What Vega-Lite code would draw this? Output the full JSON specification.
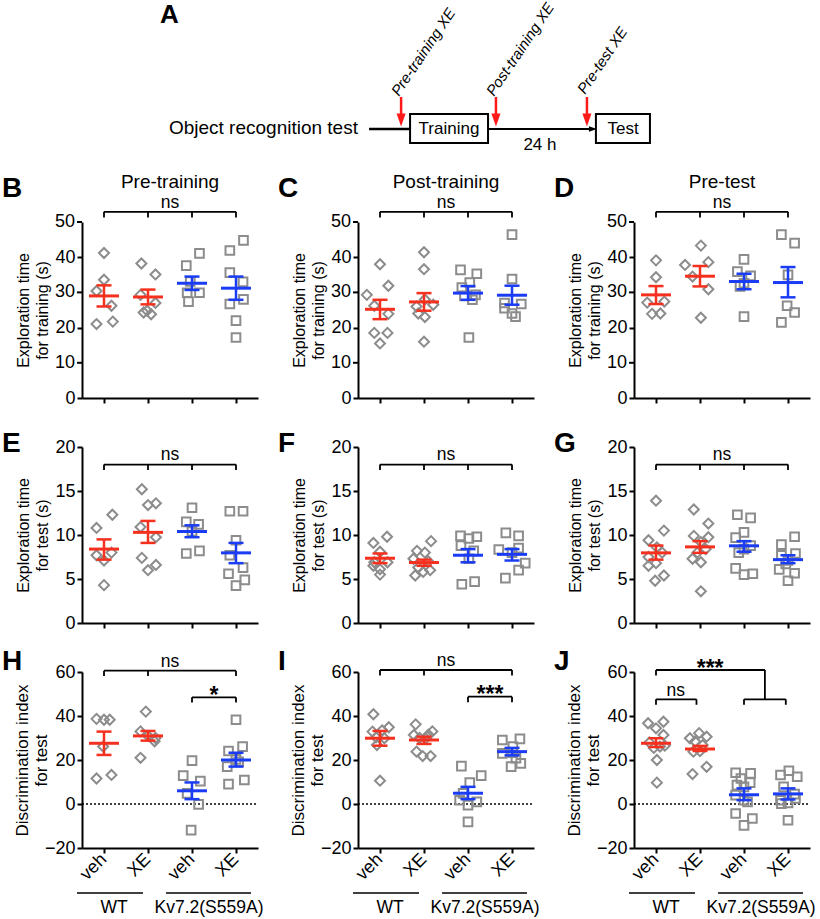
{
"$schema":"https://vega.github.io/schema/vega-lite/v6.json",
"background":"white",
"padding":{"left":2,"top":0,"right":2,"bottom":4},
"columns":3,
"spacing":{"row":49,"column":100},
"bounds":"flush",
"config":{
 "font":"Liberation Sans",
 "view":{"stroke":null},
 "axis":{"domainColor":"#000","domainWidth":2,"tickColor":"#000","tickWidth":2,"tickSize":5,"labelColor":"#000","labelFontSize":18,"labelFont":"Liberation Sans","labelPadding":2,"titleColor":"#000","titleFont":"Liberation Sans","titleFontSize":16,"titleFontWeight":"normal","titlePadding":6,"titleLineHeight":19,"grid":false,"labelFlush":false,"labelOverlap":false,"labelBound":false},
 "axisY":{"titleX":-51},
 "text":{"color":"#000","font":"Liberation Sans"}
},
"datasets":{
"pts":[
{"p":"B","g":1,"x":1.0,"v":41.2},{"p":"B","g":1,"x":1.0,"v":33.6},{"p":"B","g":1,"x":0.83,"v":30.4},{"p":"B","g":1,"x":1.17,"v":26.2},{"p":"B","g":1,"x":0.83,"v":21.0},{"p":"B","g":1,"x":1.2,"v":21.7},
{"p":"B","g":2,"x":1.85,"v":38.2},{"p":"B","g":2,"x":2.17,"v":35.1},{"p":"B","g":2,"x":1.83,"v":29.3},{"p":"B","g":2,"x":2.17,"v":27.0},{"p":"B","g":2,"x":1.98,"v":24.8},{"p":"B","g":2,"x":2.07,"v":23.8},{"p":"B","g":2,"x":1.9,"v":24.3},
{"p":"B","g":3,"x":2.87,"v":37.6},{"p":"B","g":3,"x":3.17,"v":41.1},{"p":"B","g":3,"x":2.96,"v":33.1},{"p":"B","g":3,"x":2.89,"v":29.9},{"p":"B","g":3,"x":3.17,"v":29.9},{"p":"B","g":3,"x":2.92,"v":27.4},
{"p":"B","g":4,"x":4.17,"v":44.8},{"p":"B","g":4,"x":3.86,"v":41.9},{"p":"B","g":4,"x":3.86,"v":35.6},{"p":"B","g":4,"x":4.16,"v":33.0},{"p":"B","g":4,"x":4.17,"v":28.0},{"p":"B","g":4,"x":3.86,"v":26.7},{"p":"B","g":4,"x":4.0,"v":22.0},{"p":"B","g":4,"x":4.0,"v":17.2},
{"p":"C","g":1,"x":1.0,"v":38.0},{"p":"C","g":1,"x":1.19,"v":31.9},{"p":"C","g":1,"x":0.7,"v":29.3},{"p":"C","g":1,"x":0.87,"v":26.2},{"p":"C","g":1,"x":1.19,"v":23.9},{"p":"C","g":1,"x":0.87,"v":18.5},{"p":"C","g":1,"x":1.17,"v":18.5},{"p":"C","g":1,"x":1.0,"v":15.5},
{"p":"C","g":2,"x":2.0,"v":41.4},{"p":"C","g":2,"x":2.0,"v":36.6},{"p":"C","g":2,"x":2.02,"v":28.0},{"p":"C","g":2,"x":1.83,"v":26.0},{"p":"C","g":2,"x":2.21,"v":26.5},{"p":"C","g":2,"x":1.87,"v":24.0},{"p":"C","g":2,"x":2.02,"v":23.0},{"p":"C","g":2,"x":2.0,"v":16.0},
{"p":"C","g":3,"x":2.83,"v":36.4},{"p":"C","g":3,"x":3.2,"v":35.3},{"p":"C","g":3,"x":3.04,"v":32.8},{"p":"C","g":3,"x":2.86,"v":31.4},{"p":"C","g":3,"x":3.17,"v":29.3},{"p":"C","g":3,"x":2.92,"v":29.0},{"p":"C","g":3,"x":3.1,"v":27.9},{"p":"C","g":3,"x":3.02,"v":17.2},
{"p":"C","g":4,"x":4.0,"v":46.4},{"p":"C","g":4,"x":4.0,"v":33.8},{"p":"C","g":4,"x":3.83,"v":27.0},{"p":"C","g":4,"x":4.21,"v":26.7},{"p":"C","g":4,"x":3.83,"v":25.5},{"p":"C","g":4,"x":4.0,"v":24.0},{"p":"C","g":4,"x":4.08,"v":23.1},
{"p":"D","g":1,"x":1.0,"v":39.1},{"p":"D","g":1,"x":1.0,"v":34.3},{"p":"D","g":1,"x":0.8,"v":27.1},{"p":"D","g":1,"x":1.19,"v":27.4},{"p":"D","g":1,"x":0.91,"v":23.9},{"p":"D","g":1,"x":1.1,"v":24.0},
{"p":"D","g":2,"x":2.02,"v":43.3},{"p":"D","g":2,"x":1.66,"v":37.8},{"p":"D","g":2,"x":2.19,"v":38.6},{"p":"D","g":2,"x":1.83,"v":34.5},{"p":"D","g":2,"x":2.19,"v":30.9},{"p":"D","g":2,"x":2.02,"v":22.8},
{"p":"D","g":3,"x":3.0,"v":39.4},{"p":"D","g":3,"x":2.85,"v":35.9},{"p":"D","g":3,"x":3.15,"v":34.7},{"p":"D","g":3,"x":3.0,"v":32.6},{"p":"D","g":3,"x":2.91,"v":31.7},{"p":"D","g":3,"x":3.0,"v":23.1},
{"p":"D","g":4,"x":3.85,"v":46.4},{"p":"D","g":4,"x":4.15,"v":44.0},{"p":"D","g":4,"x":4.0,"v":35.0},{"p":"D","g":4,"x":3.98,"v":26.2},{"p":"D","g":4,"x":4.15,"v":24.3},{"p":"D","g":4,"x":3.85,"v":21.5},
{"p":"E","g":1,"x":1.19,"v":12.3},{"p":"E","g":1,"x":0.83,"v":10.8},{"p":"E","g":1,"x":0.83,"v":7.7},{"p":"E","g":1,"x":1.17,"v":8.0},{"p":"E","g":1,"x":1.0,"v":7.1},{"p":"E","g":1,"x":1.0,"v":4.3},
{"p":"E","g":2,"x":1.86,"v":15.2},{"p":"E","g":2,"x":2.0,"v":13.4},{"p":"E","g":2,"x":2.18,"v":13.6},{"p":"E","g":2,"x":1.83,"v":10.9},{"p":"E","g":2,"x":2.18,"v":9.75},{"p":"E","g":2,"x":1.86,"v":7.4},{"p":"E","g":2,"x":2.0,"v":6.0},{"p":"E","g":2,"x":2.18,"v":6.6},
{"p":"E","g":3,"x":3.0,"v":13.1},{"p":"E","g":3,"x":2.87,"v":11.5},{"p":"E","g":3,"x":3.15,"v":11.2},{"p":"E","g":3,"x":3.0,"v":10.4},{"p":"E","g":3,"x":2.87,"v":7.9},{"p":"E","g":3,"x":3.17,"v":8.2},
{"p":"E","g":4,"x":3.86,"v":12.7},{"p":"E","g":4,"x":4.16,"v":12.7},{"p":"E","g":4,"x":4.0,"v":9.4},{"p":"E","g":4,"x":3.86,"v":7.7},{"p":"E","g":4,"x":3.83,"v":5.6},{"p":"E","g":4,"x":4.16,"v":6.3},{"p":"E","g":4,"x":4.2,"v":4.9},{"p":"E","g":4,"x":4.0,"v":4.25},
{"p":"F","g":1,"x":1.16,"v":9.8},{"p":"F","g":1,"x":0.85,"v":9.1},{"p":"F","g":1,"x":1.0,"v":8.1},{"p":"F","g":1,"x":0.87,"v":6.9},{"p":"F","g":1,"x":1.17,"v":6.9},{"p":"F","g":1,"x":1.0,"v":6.1},{"p":"F","g":1,"x":1.0,"v":5.5},{"p":"F","g":1,"x":0.85,"v":6.5},
{"p":"F","g":2,"x":2.16,"v":9.3},{"p":"F","g":2,"x":1.84,"v":8.2},{"p":"F","g":2,"x":2.02,"v":8.0},{"p":"F","g":2,"x":1.76,"v":7.3},{"p":"F","g":2,"x":2.1,"v":7.0},{"p":"F","g":2,"x":1.87,"v":6.3},{"p":"F","g":2,"x":1.98,"v":5.8},{"p":"F","g":2,"x":1.8,"v":5.4},{"p":"F","g":2,"x":2.14,"v":6.0},
{"p":"F","g":3,"x":2.83,"v":9.9},{"p":"F","g":3,"x":3.02,"v":9.6},{"p":"F","g":3,"x":3.2,"v":9.8},{"p":"F","g":3,"x":2.84,"v":8.8},{"p":"F","g":3,"x":3.13,"v":8.2},{"p":"F","g":3,"x":3.02,"v":7.3},{"p":"F","g":3,"x":2.86,"v":4.4},{"p":"F","g":3,"x":3.15,"v":4.7},
{"p":"F","g":4,"x":3.86,"v":10.25},{"p":"F","g":4,"x":4.15,"v":9.9},{"p":"F","g":4,"x":3.7,"v":8.35},{"p":"F","g":4,"x":4.15,"v":8.5},{"p":"F","g":4,"x":4.0,"v":8.0},{"p":"F","g":4,"x":4.3,"v":6.8},{"p":"F","g":4,"x":4.15,"v":6.0},{"p":"F","g":4,"x":3.85,"v":5.1},
{"p":"G","g":1,"x":1.0,"v":13.9},{"p":"G","g":1,"x":1.18,"v":10.5},{"p":"G","g":1,"x":0.83,"v":9.4},{"p":"G","g":1,"x":1.02,"v":8.6},{"p":"G","g":1,"x":1.14,"v":8.0},{"p":"G","g":1,"x":0.83,"v":7.5},{"p":"G","g":1,"x":0.83,"v":6.5},{"p":"G","g":1,"x":1.0,"v":6.8},{"p":"G","g":1,"x":1.18,"v":5.4},{"p":"G","g":1,"x":0.98,"v":4.8},
{"p":"G","g":2,"x":1.86,"v":12.9},{"p":"G","g":2,"x":2.19,"v":11.3},{"p":"G","g":2,"x":1.86,"v":9.9},{"p":"G","g":2,"x":2.19,"v":9.75},{"p":"G","g":2,"x":2.02,"v":9.2},{"p":"G","g":2,"x":1.94,"v":8.0},{"p":"G","g":2,"x":1.83,"v":7.3},{"p":"G","g":2,"x":2.13,"v":8.4},{"p":"G","g":2,"x":2.02,"v":6.9},{"p":"G","g":2,"x":2.02,"v":3.6},
{"p":"G","g":3,"x":2.85,"v":12.3},{"p":"G","g":3,"x":3.15,"v":11.95},{"p":"G","g":3,"x":3.0,"v":10.3},{"p":"G","g":3,"x":2.81,"v":9.7},{"p":"G","g":3,"x":3.15,"v":8.8},{"p":"G","g":3,"x":3.0,"v":8.4},{"p":"G","g":3,"x":2.81,"v":6.2},{"p":"G","g":3,"x":3.0,"v":5.5},{"p":"G","g":3,"x":3.2,"v":5.6},{"p":"G","g":3,"x":2.88,"v":8.0},
{"p":"G","g":4,"x":4.15,"v":9.8},{"p":"G","g":4,"x":3.85,"v":8.9},{"p":"G","g":4,"x":4.17,"v":7.9},{"p":"G","g":4,"x":3.85,"v":7.7},{"p":"G","g":4,"x":4.0,"v":7.1},{"p":"G","g":4,"x":3.8,"v":6.1},{"p":"G","g":4,"x":4.15,"v":5.65},{"p":"G","g":4,"x":4.0,"v":4.8},{"p":"G","g":4,"x":3.95,"v":6.7},
{"p":"H","g":1,"x":0.83,"v":38.7},{"p":"H","g":1,"x":1.0,"v":38.3},{"p":"H","g":1,"x":1.13,"v":38.3},{"p":"H","g":1,"x":0.98,"v":26.1},{"p":"H","g":1,"x":0.83,"v":11.6},{"p":"H","g":1,"x":1.17,"v":13.2},
{"p":"H","g":2,"x":1.95,"v":42.0},{"p":"H","g":2,"x":1.83,"v":33.0},{"p":"H","g":2,"x":2.0,"v":31.0},{"p":"H","g":2,"x":2.17,"v":30.0},{"p":"H","g":2,"x":2.15,"v":28.5},{"p":"H","g":2,"x":1.83,"v":21.0},
{"p":"H","g":3,"x":3.0,"v":19.7},{"p":"H","g":3,"x":2.8,"v":12.9},{"p":"H","g":3,"x":3.19,"v":10.4},{"p":"H","g":3,"x":2.89,"v":4.8},{"p":"H","g":3,"x":3.15,"v":-0.2},{"p":"H","g":3,"x":2.98,"v":-11.9},
{"p":"H","g":4,"x":4.0,"v":38.3},{"p":"H","g":4,"x":3.83,"v":24.1},{"p":"H","g":4,"x":4.15,"v":26.1},{"p":"H","g":4,"x":4.06,"v":19.2},{"p":"H","g":4,"x":3.8,"v":17.0},{"p":"H","g":4,"x":4.19,"v":10.9},{"p":"H","g":4,"x":3.83,"v":9.0},{"p":"H","g":4,"x":4.0,"v":20.3},
{"p":"I","g":1,"x":0.85,"v":40.8},{"p":"I","g":1,"x":0.83,"v":32.9},{"p":"I","g":1,"x":1.2,"v":34.9},{"p":"I","g":1,"x":0.91,"v":30.3},{"p":"I","g":1,"x":1.1,"v":29.9},{"p":"I","g":1,"x":0.93,"v":26.8},{"p":"I","g":1,"x":1.0,"v":10.6},{"p":"I","g":1,"x":1.05,"v":33.5},
{"p":"I","g":2,"x":1.81,"v":36.2},{"p":"I","g":2,"x":2.19,"v":33.0},{"p":"I","g":2,"x":2.1,"v":31.5},{"p":"I","g":2,"x":1.77,"v":31.4},{"p":"I","g":2,"x":2.04,"v":29.9},{"p":"I","g":2,"x":1.83,"v":23.8},{"p":"I","g":2,"x":1.97,"v":21.8},{"p":"I","g":2,"x":2.15,"v":21.8},{"p":"I","g":2,"x":1.9,"v":30.0},
{"p":"I","g":3,"x":2.85,"v":17.2},{"p":"I","g":3,"x":3.3,"v":12.9},{"p":"I","g":3,"x":3.04,"v":9.7},{"p":"I","g":3,"x":2.81,"v":1.7},{"p":"I","g":3,"x":3.0,"v":-0.5},{"p":"I","g":3,"x":3.0,"v":-8.1},{"p":"I","g":3,"x":2.89,"v":4.8},{"p":"I","g":3,"x":3.2,"v":1.0},
{"p":"I","g":4,"x":3.78,"v":29.1},{"p":"I","g":4,"x":4.18,"v":29.6},{"p":"I","g":4,"x":4.02,"v":26.1},{"p":"I","g":4,"x":3.78,"v":23.0},{"p":"I","g":4,"x":4.09,"v":20.8},{"p":"I","g":4,"x":3.98,"v":17.0},{"p":"I","g":4,"x":4.2,"v":18.5},{"p":"I","g":4,"x":4.02,"v":23.3},
{"p":"J","g":1,"x":0.82,"v":36.7},{"p":"J","g":1,"x":1.17,"v":37.4},{"p":"J","g":1,"x":1.0,"v":34.4},{"p":"J","g":1,"x":1.17,"v":31.4},{"p":"J","g":1,"x":1.09,"v":26.1},{"p":"J","g":1,"x":1.02,"v":20.0},{"p":"J","g":1,"x":1.02,"v":9.7},{"p":"J","g":1,"x":0.85,"v":28.0},{"p":"J","g":1,"x":0.95,"v":25.5},{"p":"J","g":1,"x":1.2,"v":26.5},
{"p":"J","g":2,"x":1.77,"v":29.9},{"p":"J","g":2,"x":1.98,"v":32.2},{"p":"J","g":2,"x":2.15,"v":30.6},{"p":"J","g":2,"x":1.89,"v":28.4},{"p":"J","g":2,"x":2.06,"v":26.8},{"p":"J","g":2,"x":1.85,"v":23.8},{"p":"J","g":2,"x":2.15,"v":16.9},{"p":"J","g":2,"x":1.83,"v":13.6},{"p":"J","g":2,"x":2.0,"v":24.0},
{"p":"J","g":3,"x":2.81,"v":14.2},{"p":"J","g":3,"x":3.15,"v":13.9},{"p":"J","g":3,"x":2.93,"v":11.6},{"p":"J","g":3,"x":3.14,"v":9.7},{"p":"J","g":3,"x":3.0,"v":7.8},{"p":"J","g":3,"x":2.81,"v":4.0},{"p":"J","g":3,"x":3.08,"v":1.0},{"p":"J","g":3,"x":2.81,"v":-4.3},{"p":"J","g":3,"x":3.19,"v":-6.6},{"p":"J","g":3,"x":3.0,"v":-9.7},{"p":"J","g":3,"x":2.84,"v":8.6},{"p":"J","g":3,"x":3.0,"v":1.7},
{"p":"J","g":4,"x":3.83,"v":13.2},{"p":"J","g":4,"x":4.02,"v":15.1},{"p":"J","g":4,"x":4.21,"v":12.4},{"p":"J","g":4,"x":3.9,"v":7.8},{"p":"J","g":4,"x":4.15,"v":4.5},{"p":"J","g":4,"x":3.83,"v":1.7},{"p":"J","g":4,"x":4.0,"v":0.5},{"p":"J","g":4,"x":4.17,"v":2.5},{"p":"J","g":4,"x":4.0,"v":-7.4},{"p":"J","g":4,"x":3.85,"v":0.2}
],
"sum":[
{"p":"B","g":1,"m":29.0,"lo":26.0,"hi":32.0},{"p":"B","g":2,"m":28.7,"lo":26.6,"hi":30.8},{"p":"B","g":3,"m":32.6,"lo":30.7,"hi":34.5},{"p":"B","g":4,"m":31.2,"lo":27.9,"hi":34.5},
{"p":"C","g":1,"m":25.2,"lo":22.4,"hi":27.9},{"p":"C","g":2,"m":27.3,"lo":24.8,"hi":29.8},{"p":"C","g":3,"m":29.8,"lo":27.9,"hi":31.8},{"p":"C","g":4,"m":29.2,"lo":26.5,"hi":31.9},
{"p":"D","g":1,"m":29.3,"lo":26.7,"hi":31.8},{"p":"D","g":2,"m":34.6,"lo":31.7,"hi":37.5},{"p":"D","g":3,"m":33.1,"lo":30.9,"hi":35.3},{"p":"D","g":4,"m":32.8,"lo":28.6,"hi":37.2},
{"p":"E","g":1,"m":8.4,"lo":7.2,"hi":9.5},{"p":"E","g":2,"m":10.3,"lo":9.1,"hi":11.6},{"p":"E","g":3,"m":10.4,"lo":9.75,"hi":11.1},{"p":"E","g":4,"m":7.97,"lo":6.8,"hi":9.1},
{"p":"F","g":1,"m":7.36,"lo":6.8,"hi":7.9},{"p":"F","g":2,"m":6.87,"lo":6.5,"hi":7.2},{"p":"F","g":3,"m":7.7,"lo":6.9,"hi":8.4},{"p":"F","g":4,"m":7.8,"lo":7.1,"hi":8.4},
{"p":"G","g":1,"m":7.97,"lo":7.2,"hi":8.8},{"p":"G","g":2,"m":8.65,"lo":7.97,"hi":9.3},{"p":"G","g":3,"m":8.77,"lo":8.1,"hi":9.3},{"p":"G","g":4,"m":7.2,"lo":6.8,"hi":7.7},
{"p":"H","g":1,"m":27.6,"lo":22.3,"hi":32.9},{"p":"H","g":2,"m":30.95,"lo":28.8,"hi":33.2},{"p":"H","g":3,"m":6.0,"lo":2.2,"hi":9.8},{"p":"H","g":4,"m":20.0,"lo":17.0,"hi":23.3},
{"p":"I","g":1,"m":29.9,"lo":26.5,"hi":33.2},{"p":"I","g":2,"m":29.1,"lo":27.3,"hi":30.6},{"p":"I","g":3,"m":4.9,"lo":2.2,"hi":7.8},{"p":"I","g":4,"m":23.8,"lo":22.1,"hi":25.5},
{"p":"J","g":1,"m":27.6,"lo":25.9,"hi":29.9},{"p":"J","g":2,"m":25.0,"lo":24.1,"hi":26.4},{"p":"J","g":3,"m":4.2,"lo":1.75,"hi":7.1},{"p":"J","g":4,"m":4.6,"lo":2.05,"hi":7.1}
]
},
"concat":[
{
"width":176,"height":162,
"data":{"values":[{}]},
"layer":[
 {"mark":{"type":"rule","color":"#000","strokeWidth":2.5},"encoding":{"x":{"datum":163.1,"scale":{"domain":[0,100],"nice":false,"zero":false},"axis":null},"x2":{"datum":186.4},"y":{"datum":27.2,"scale":{"domain":[0,100],"nice":false,"zero":false},"axis":null}}},
 {"mark":{"type":"rule","color":"#000","strokeWidth":2},"encoding":{"x":{"datum":230.7,"axis":null},"x2":{"datum":290.0},"y":{"datum":27.2,"axis":null}}},
 {"mark":{"type":"point","shape":"M-1,-0.7L-1,0.7L1,0Z","size":64,"filled":true,"color":"#000","opacity":1},"encoding":{"x":{"datum":290.3,"axis":null},"y":{"datum":27.2,"axis":null}}},
 {"mark":{"type":"rect","fill":"white","stroke":"#000","strokeWidth":2},"encoding":{"x":{"datum":186.4,"axis":null},"x2":{"datum":230.7},"y":{"datum":36.4,"axis":null},"y2":{"datum":18.5}}},
 {"mark":{"type":"rect","fill":"white","stroke":"#000","strokeWidth":2},"encoding":{"x":{"datum":292.0,"axis":null},"x2":{"datum":322.7},"y":{"datum":36.4,"axis":null},"y2":{"datum":18.5}}},
 {"mark":{"type":"text","text":"Training","fontSize":17,"baseline":"middle","align":"center"},"encoding":{"x":{"datum":208.5,"axis":null},"y":{"datum":27.2,"axis":null}}},
 {"mark":{"type":"text","text":"Test","fontSize":17,"baseline":"middle","align":"center"},"encoding":{"x":{"datum":307.4,"axis":null},"y":{"datum":27.2,"axis":null}}},
 {"mark":{"type":"text","text":"24 h","fontSize":17,"baseline":"alphabetic","align":"center"},"encoding":{"x":{"datum":260.2,"axis":null},"y":{"datum":14.2,"axis":null}}},
 {"mark":{"type":"text","text":"Object recognition test","fontSize":19,"baseline":"alphabetic","align":"right"},"encoding":{"x":{"datum":156.8,"axis":null},"y":{"datum":24.1,"axis":null}}},
 {"mark":{"type":"text","text":"A","fontSize":26,"fontWeight":"bold","baseline":"alphabetic","align":"left"},"encoding":{"x":{"datum":44.3,"axis":null},"y":{"datum":92.6,"axis":null}}},
 {"mark":{"type":"rule","color":"#ff1a1a","strokeWidth":2.5},"encoding":{"x":{"datum":181.3,"axis":null},"y":{"datum":46.9,"axis":null},"y2":{"datum":35.2}}},
 {"mark":{"type":"rule","color":"#ff1a1a","strokeWidth":2.5},"encoding":{"x":{"datum":235.2,"axis":null},"y":{"datum":46.9,"axis":null},"y2":{"datum":35.2}}},
 {"mark":{"type":"rule","color":"#ff1a1a","strokeWidth":2.5},"encoding":{"x":{"datum":286.9,"axis":null},"y":{"datum":46.9,"axis":null},"y2":{"datum":35.2}}},
 {"mark":{"type":"point","shape":"M-0.7,-1L0.7,-1L0,1Z","size":169,"filled":true,"color":"#ff1a1a","opacity":1},"encoding":{"x":{"datum":181.3,"axis":null},"y":{"datum":32.7,"axis":null}}},
 {"mark":{"type":"point","shape":"M-0.7,-1L0.7,-1L0,1Z","size":169,"filled":true,"color":"#ff1a1a","opacity":1},"encoding":{"x":{"datum":235.2,"axis":null},"y":{"datum":32.7,"axis":null}}},
 {"mark":{"type":"point","shape":"M-0.7,-1L0.7,-1L0,1Z","size":169,"filled":true,"color":"#ff1a1a","opacity":1},"encoding":{"x":{"datum":286.9,"axis":null},"y":{"datum":32.7,"axis":null}}},
 {"mark":{"type":"text","text":"Pre-training XE","fontSize":15,"fontStyle":"italic","angle":-56,"align":"left","baseline":"alphabetic"},"encoding":{"x":{"datum":180.1,"axis":null},"y":{"datum":46.9,"axis":null}}},
 {"mark":{"type":"text","text":"Post-training XE","fontSize":15,"fontStyle":"italic","angle":-56,"align":"left","baseline":"alphabetic"},"encoding":{"x":{"datum":234.1,"axis":null},"y":{"datum":46.9,"axis":null}}},
 {"mark":{"type":"text","text":"Pre-test XE","fontSize":15,"fontStyle":"italic","angle":-56,"align":"left","baseline":"alphabetic"},"encoding":{"x":{"datum":285.8,"axis":null},"y":{"datum":48.1,"axis":null}}}
]
},
{"width":176,"height":162,"data":{"values":[{}]},"mark":{"type":"text","text":""}},
{"width":176,"height":162,"data":{"values":[{}]},"mark":{"type":"text","text":""}},

{
"width":176,"height":176,"data":{"values":[{}]},
"layer":[
 {"data":{"name":"pts"},"transform":[{"filter":"datum.p=='B' && datum.g<=2"}],"mark":{"type":"point","shape":"diamond","size":100,"filled":false,"color":"#8c8c8c","strokeWidth":2,"opacity":1},"encoding":{"x":{"field":"x","type":"quantitative","scale":{"domain":[0.5,4.5],"nice":false,"zero":false},"axis":{"values":[1,2,3,4],"labels":false,"title":null}},"y":{"field":"v","type":"quantitative","scale":{"domain":[0,50],"nice":false,"zero":false},"axis":{"values":[0,10,20,30,40,50],"title":["Exploration time","for training (s)"],"labelOverlap":false}}}},
 {"data":{"name":"pts"},"transform":[{"filter":"datum.p=='B' && datum.g>=3"}],"mark":{"type":"point","shape":"square","size":75,"filled":false,"color":"#8c8c8c","strokeWidth":2,"opacity":1},"encoding":{"x":{"field":"x","type":"quantitative"},"y":{"field":"v","type":"quantitative"}}},
 {"data":{"values":[{"t":10},{"t":30},{"t":50}]},"mark":{"type":"rule","color":"#000","strokeWidth":2},"encoding":{"x":{"datum":0.5},"x2":{"datum":0.386},"y":{"field":"t","type":"quantitative"}}},
 {"data":{"values":[{"t":10},{"t":30},{"t":50}]},"mark":{"type":"text","fontSize":18,"align":"right","baseline":"middle","xOffset":-7},"encoding":{"x":{"datum":0.5},"y":{"field":"t","type":"quantitative"},"text":{"field":"t","type":"quantitative"}}},
 {"data":{"name":"sum"},"transform":[{"filter":"datum.p=='B'"}],"mark":{"type":"rule","strokeWidth":2.5},"encoding":{"x":{"field":"g","type":"quantitative"},"y":{"field":"lo","type":"quantitative"},"y2":{"field":"hi"},"color":{"field":"g","type":"nominal","scale":{"domain":[1,2,3,4],"range":["#f5301e","#f5301e","#1a3cf4","#1a3cf4"]},"legend":null}}},
 {"data":{"name":"sum"},"transform":[{"filter":"datum.p=='B'"}],"mark":{"type":"tick","orient":"horizontal","size":30,"thickness":3,"opacity":1},"encoding":{"x":{"field":"g","type":"quantitative"},"y":{"field":"m","type":"quantitative"},"color":{"field":"g","type":"nominal","legend":null}}},
 {"data":{"name":"sum"},"transform":[{"filter":"datum.p=='B'"}],"mark":{"type":"tick","orient":"horizontal","size":15,"thickness":2.5,"opacity":1},"encoding":{"x":{"field":"g","type":"quantitative"},"y":{"field":"lo","type":"quantitative"},"color":{"field":"g","type":"nominal","legend":null}}},
 {"data":{"name":"sum"},"transform":[{"filter":"datum.p=='B'"}],"mark":{"type":"tick","orient":"horizontal","size":15,"thickness":2.5,"opacity":1},"encoding":{"x":{"field":"g","type":"quantitative"},"y":{"field":"hi","type":"quantitative"},"color":{"field":"g","type":"nominal","legend":null}}},
 {"mark":{"type":"rule","color":"#000","strokeWidth":1.8},"encoding":{"x":{"datum":1},"x2":{"datum":4},"y":{"datum":52.9}}},
 {"data":{"name":"sum"},"transform":[{"filter":"datum.p=='B'"}],"mark":{"type":"rule","color":"#000","strokeWidth":1.8},"encoding":{"x":{"field":"g","type":"quantitative"},"y":{"datum":52.9},"y2":{"datum":51.3}}},
 {"mark":{"type":"text","text":"ns","fontSize":17.5,"dy":-4,"baseline":"alphabetic","align":"center"},"encoding":{"x":{"datum":2.5},"y":{"datum":52.9}}},
 {"mark":{"type":"text","text":"Pre-training","fontSize":19,"dy":-34,"baseline":"alphabetic","align":"center"},"encoding":{"x":{"datum":2.5},"y":{"datum":50}}},
 {"mark":{"type":"text","text":"B","fontSize":28,"fontWeight":"bold","align":"left","dx":-80,"dy":-25,"baseline":"alphabetic"},"encoding":{"x":{"datum":0.5},"y":{"datum":50}}}
]
},
{
"width":176,"height":176,"data":{"values":[{}]},
"layer":[
 {"data":{"name":"pts"},"transform":[{"filter":"datum.p=='C' && datum.g<=2"}],"mark":{"type":"point","shape":"diamond","size":100,"filled":false,"color":"#8c8c8c","strokeWidth":2,"opacity":1},"encoding":{"x":{"field":"x","type":"quantitative","scale":{"domain":[0.5,4.5],"nice":false,"zero":false},"axis":{"values":[1,2,3,4],"labels":false,"title":null}},"y":{"field":"v","type":"quantitative","scale":{"domain":[0,50],"nice":false,"zero":false},"axis":{"values":[0,10,20,30,40,50],"title":["Exploration time","for training (s)"],"labelOverlap":false}}}},
 {"data":{"name":"pts"},"transform":[{"filter":"datum.p=='C' && datum.g>=3"}],"mark":{"type":"point","shape":"square","size":75,"filled":false,"color":"#8c8c8c","strokeWidth":2,"opacity":1},"encoding":{"x":{"field":"x","type":"quantitative"},"y":{"field":"v","type":"quantitative"}}},
 {"data":{"values":[{"t":10},{"t":30},{"t":50}]},"mark":{"type":"rule","color":"#000","strokeWidth":2},"encoding":{"x":{"datum":0.5},"x2":{"datum":0.386},"y":{"field":"t","type":"quantitative"}}},
 {"data":{"values":[{"t":10},{"t":30},{"t":50}]},"mark":{"type":"text","fontSize":18,"align":"right","baseline":"middle","xOffset":-7},"encoding":{"x":{"datum":0.5},"y":{"field":"t","type":"quantitative"},"text":{"field":"t","type":"quantitative"}}},
 {"data":{"name":"sum"},"transform":[{"filter":"datum.p=='C'"}],"mark":{"type":"rule","strokeWidth":2.5},"encoding":{"x":{"field":"g","type":"quantitative"},"y":{"field":"lo","type":"quantitative"},"y2":{"field":"hi"},"color":{"field":"g","type":"nominal","scale":{"domain":[1,2,3,4],"range":["#f5301e","#f5301e","#1a3cf4","#1a3cf4"]},"legend":null}}},
 {"data":{"name":"sum"},"transform":[{"filter":"datum.p=='C'"}],"mark":{"type":"tick","orient":"horizontal","size":30,"thickness":3,"opacity":1},"encoding":{"x":{"field":"g","type":"quantitative"},"y":{"field":"m","type":"quantitative"},"color":{"field":"g","type":"nominal","legend":null}}},
 {"data":{"name":"sum"},"transform":[{"filter":"datum.p=='C'"}],"mark":{"type":"tick","orient":"horizontal","size":15,"thickness":2.5,"opacity":1},"encoding":{"x":{"field":"g","type":"quantitative"},"y":{"field":"lo","type":"quantitative"},"color":{"field":"g","type":"nominal","legend":null}}},
 {"data":{"name":"sum"},"transform":[{"filter":"datum.p=='C'"}],"mark":{"type":"tick","orient":"horizontal","size":15,"thickness":2.5,"opacity":1},"encoding":{"x":{"field":"g","type":"quantitative"},"y":{"field":"hi","type":"quantitative"},"color":{"field":"g","type":"nominal","legend":null}}},
 {"mark":{"type":"rule","color":"#000","strokeWidth":1.8},"encoding":{"x":{"datum":1},"x2":{"datum":4},"y":{"datum":52.9}}},
 {"data":{"name":"sum"},"transform":[{"filter":"datum.p=='C'"}],"mark":{"type":"rule","color":"#000","strokeWidth":1.8},"encoding":{"x":{"field":"g","type":"quantitative"},"y":{"datum":52.9},"y2":{"datum":51.3}}},
 {"mark":{"type":"text","text":"ns","fontSize":17.5,"dy":-4,"baseline":"alphabetic","align":"center"},"encoding":{"x":{"datum":2.5},"y":{"datum":52.9}}},
 {"mark":{"type":"text","text":"Post-training","fontSize":19,"dy":-34,"baseline":"alphabetic","align":"center"},"encoding":{"x":{"datum":2.5},"y":{"datum":50}}},
 {"mark":{"type":"text","text":"C","fontSize":28,"fontWeight":"bold","align":"left","dx":-80,"dy":-25,"baseline":"alphabetic"},"encoding":{"x":{"datum":0.5},"y":{"datum":50}}}
]
},
{
"width":176,"height":176,"data":{"values":[{}]},
"layer":[
 {"data":{"name":"pts"},"transform":[{"filter":"datum.p=='D' && datum.g<=2"}],"mark":{"type":"point","shape":"diamond","size":100,"filled":false,"color":"#8c8c8c","strokeWidth":2,"opacity":1},"encoding":{"x":{"field":"x","type":"quantitative","scale":{"domain":[0.5,4.5],"nice":false,"zero":false},"axis":{"values":[1,2,3,4],"labels":false,"title":null}},"y":{"field":"v","type":"quantitative","scale":{"domain":[0,50],"nice":false,"zero":false},"axis":{"values":[0,10,20,30,40,50],"title":["Exploration time","for training (s)"],"labelOverlap":false}}}},
 {"data":{"name":"pts"},"transform":[{"filter":"datum.p=='D' && datum.g>=3"}],"mark":{"type":"point","shape":"square","size":75,"filled":false,"color":"#8c8c8c","strokeWidth":2,"opacity":1},"encoding":{"x":{"field":"x","type":"quantitative"},"y":{"field":"v","type":"quantitative"}}},
 {"data":{"values":[{"t":10},{"t":30},{"t":50}]},"mark":{"type":"rule","color":"#000","strokeWidth":2},"encoding":{"x":{"datum":0.5},"x2":{"datum":0.386},"y":{"field":"t","type":"quantitative"}}},
 {"data":{"values":[{"t":10},{"t":30},{"t":50}]},"mark":{"type":"text","fontSize":18,"align":"right","baseline":"middle","xOffset":-7},"encoding":{"x":{"datum":0.5},"y":{"field":"t","type":"quantitative"},"text":{"field":"t","type":"quantitative"}}},
 {"data":{"name":"sum"},"transform":[{"filter":"datum.p=='D'"}],"mark":{"type":"rule","strokeWidth":2.5},"encoding":{"x":{"field":"g","type":"quantitative"},"y":{"field":"lo","type":"quantitative"},"y2":{"field":"hi"},"color":{"field":"g","type":"nominal","scale":{"domain":[1,2,3,4],"range":["#f5301e","#f5301e","#1a3cf4","#1a3cf4"]},"legend":null}}},
 {"data":{"name":"sum"},"transform":[{"filter":"datum.p=='D'"}],"mark":{"type":"tick","orient":"horizontal","size":30,"thickness":3,"opacity":1},"encoding":{"x":{"field":"g","type":"quantitative"},"y":{"field":"m","type":"quantitative"},"color":{"field":"g","type":"nominal","legend":null}}},
 {"data":{"name":"sum"},"transform":[{"filter":"datum.p=='D'"}],"mark":{"type":"tick","orient":"horizontal","size":15,"thickness":2.5,"opacity":1},"encoding":{"x":{"field":"g","type":"quantitative"},"y":{"field":"lo","type":"quantitative"},"color":{"field":"g","type":"nominal","legend":null}}},
 {"data":{"name":"sum"},"transform":[{"filter":"datum.p=='D'"}],"mark":{"type":"tick","orient":"horizontal","size":15,"thickness":2.5,"opacity":1},"encoding":{"x":{"field":"g","type":"quantitative"},"y":{"field":"hi","type":"quantitative"},"color":{"field":"g","type":"nominal","legend":null}}},
 {"mark":{"type":"rule","color":"#000","strokeWidth":1.8},"encoding":{"x":{"datum":1},"x2":{"datum":4},"y":{"datum":52.9}}},
 {"data":{"name":"sum"},"transform":[{"filter":"datum.p=='D'"}],"mark":{"type":"rule","color":"#000","strokeWidth":1.8},"encoding":{"x":{"field":"g","type":"quantitative"},"y":{"datum":52.9},"y2":{"datum":51.3}}},
 {"mark":{"type":"text","text":"ns","fontSize":17.5,"dy":-4,"baseline":"alphabetic","align":"center"},"encoding":{"x":{"datum":2.5},"y":{"datum":52.9}}},
 {"mark":{"type":"text","text":"Pre-test","fontSize":19,"dy":-34,"baseline":"alphabetic","align":"center"},"encoding":{"x":{"datum":2.5},"y":{"datum":50}}},
 {"mark":{"type":"text","text":"D","fontSize":28,"fontWeight":"bold","align":"left","dx":-80,"dy":-25,"baseline":"alphabetic"},"encoding":{"x":{"datum":0.5},"y":{"datum":50}}}
]
},

{
"width":176,"height":176,"data":{"values":[{}]},
"layer":[
 {"data":{"name":"pts"},"transform":[{"filter":"datum.p=='E' && datum.g<=2"}],"mark":{"type":"point","shape":"diamond","size":100,"filled":false,"color":"#8c8c8c","strokeWidth":2,"opacity":1},"encoding":{"x":{"field":"x","type":"quantitative","scale":{"domain":[0.5,4.5],"nice":false,"zero":false},"axis":{"values":[1,2,3,4],"labels":false,"title":null}},"y":{"field":"v","type":"quantitative","scale":{"domain":[0,20],"nice":false,"zero":false},"axis":{"values":[0,5,10,15,20],"title":["Exploration time","for test (s)"],"labelOverlap":false}}}},
 {"data":{"name":"pts"},"transform":[{"filter":"datum.p=='E' && datum.g>=3"}],"mark":{"type":"point","shape":"square","size":75,"filled":false,"color":"#8c8c8c","strokeWidth":2,"opacity":1},"encoding":{"x":{"field":"x","type":"quantitative"},"y":{"field":"v","type":"quantitative"}}},
 {"data":{"name":"sum"},"transform":[{"filter":"datum.p=='E'"}],"mark":{"type":"rule","strokeWidth":2.5},"encoding":{"x":{"field":"g","type":"quantitative"},"y":{"field":"lo","type":"quantitative"},"y2":{"field":"hi"},"color":{"field":"g","type":"nominal","scale":{"domain":[1,2,3,4],"range":["#f5301e","#f5301e","#1a3cf4","#1a3cf4"]},"legend":null}}},
 {"data":{"name":"sum"},"transform":[{"filter":"datum.p=='E'"}],"mark":{"type":"tick","orient":"horizontal","size":30,"thickness":3,"opacity":1},"encoding":{"x":{"field":"g","type":"quantitative"},"y":{"field":"m","type":"quantitative"},"color":{"field":"g","type":"nominal","legend":null}}},
 {"data":{"name":"sum"},"transform":[{"filter":"datum.p=='E'"}],"mark":{"type":"tick","orient":"horizontal","size":15,"thickness":2.5,"opacity":1},"encoding":{"x":{"field":"g","type":"quantitative"},"y":{"field":"lo","type":"quantitative"},"color":{"field":"g","type":"nominal","legend":null}}},
 {"data":{"name":"sum"},"transform":[{"filter":"datum.p=='E'"}],"mark":{"type":"tick","orient":"horizontal","size":15,"thickness":2.5,"opacity":1},"encoding":{"x":{"field":"g","type":"quantitative"},"y":{"field":"hi","type":"quantitative"},"color":{"field":"g","type":"nominal","legend":null}}},
 {"mark":{"type":"rule","color":"#000","strokeWidth":1.8},"encoding":{"x":{"datum":1},"x2":{"datum":4},"y":{"datum":18.0}}},
 {"data":{"name":"sum"},"transform":[{"filter":"datum.p=='E'"}],"mark":{"type":"rule","color":"#000","strokeWidth":1.8},"encoding":{"x":{"field":"g","type":"quantitative"},"y":{"datum":18.0},"y2":{"datum":17.4}}},
 {"mark":{"type":"text","text":"ns","fontSize":17.5,"dy":-5,"baseline":"alphabetic","align":"center"},"encoding":{"x":{"datum":2.5},"y":{"datum":18.0}}},
 {"mark":{"type":"text","text":"E","fontSize":28,"fontWeight":"bold","align":"left","dx":-80,"dy":5,"baseline":"alphabetic"},"encoding":{"x":{"datum":0.5},"y":{"datum":20}}}
]
},
{
"width":176,"height":176,"data":{"values":[{}]},
"layer":[
 {"data":{"name":"pts"},"transform":[{"filter":"datum.p=='F' && datum.g<=2"}],"mark":{"type":"point","shape":"diamond","size":100,"filled":false,"color":"#8c8c8c","strokeWidth":2,"opacity":1},"encoding":{"x":{"field":"x","type":"quantitative","scale":{"domain":[0.5,4.5],"nice":false,"zero":false},"axis":{"values":[1,2,3,4],"labels":false,"title":null}},"y":{"field":"v","type":"quantitative","scale":{"domain":[0,20],"nice":false,"zero":false},"axis":{"values":[0,5,10,15,20],"title":["Exploration time","for test (s)"],"labelOverlap":false}}}},
 {"data":{"name":"pts"},"transform":[{"filter":"datum.p=='F' && datum.g>=3"}],"mark":{"type":"point","shape":"square","size":75,"filled":false,"color":"#8c8c8c","strokeWidth":2,"opacity":1},"encoding":{"x":{"field":"x","type":"quantitative"},"y":{"field":"v","type":"quantitative"}}},
 {"data":{"name":"sum"},"transform":[{"filter":"datum.p=='F'"}],"mark":{"type":"rule","strokeWidth":2.5},"encoding":{"x":{"field":"g","type":"quantitative"},"y":{"field":"lo","type":"quantitative"},"y2":{"field":"hi"},"color":{"field":"g","type":"nominal","scale":{"domain":[1,2,3,4],"range":["#f5301e","#f5301e","#1a3cf4","#1a3cf4"]},"legend":null}}},
 {"data":{"name":"sum"},"transform":[{"filter":"datum.p=='F'"}],"mark":{"type":"tick","orient":"horizontal","size":30,"thickness":3,"opacity":1},"encoding":{"x":{"field":"g","type":"quantitative"},"y":{"field":"m","type":"quantitative"},"color":{"field":"g","type":"nominal","legend":null}}},
 {"data":{"name":"sum"},"transform":[{"filter":"datum.p=='F'"}],"mark":{"type":"tick","orient":"horizontal","size":15,"thickness":2.5,"opacity":1},"encoding":{"x":{"field":"g","type":"quantitative"},"y":{"field":"lo","type":"quantitative"},"color":{"field":"g","type":"nominal","legend":null}}},
 {"data":{"name":"sum"},"transform":[{"filter":"datum.p=='F'"}],"mark":{"type":"tick","orient":"horizontal","size":15,"thickness":2.5,"opacity":1},"encoding":{"x":{"field":"g","type":"quantitative"},"y":{"field":"hi","type":"quantitative"},"color":{"field":"g","type":"nominal","legend":null}}},
 {"mark":{"type":"rule","color":"#000","strokeWidth":1.8},"encoding":{"x":{"datum":1},"x2":{"datum":4},"y":{"datum":18.0}}},
 {"data":{"name":"sum"},"transform":[{"filter":"datum.p=='F'"}],"mark":{"type":"rule","color":"#000","strokeWidth":1.8},"encoding":{"x":{"field":"g","type":"quantitative"},"y":{"datum":18.0},"y2":{"datum":17.4}}},
 {"mark":{"type":"text","text":"ns","fontSize":17.5,"dy":-5,"baseline":"alphabetic","align":"center"},"encoding":{"x":{"datum":2.5},"y":{"datum":18.0}}},
 {"mark":{"type":"text","text":"F","fontSize":28,"fontWeight":"bold","align":"left","dx":-80,"dy":5,"baseline":"alphabetic"},"encoding":{"x":{"datum":0.5},"y":{"datum":20}}}
]
},
{
"width":176,"height":176,"data":{"values":[{}]},
"layer":[
 {"data":{"name":"pts"},"transform":[{"filter":"datum.p=='G' && datum.g<=2"}],"mark":{"type":"point","shape":"diamond","size":100,"filled":false,"color":"#8c8c8c","strokeWidth":2,"opacity":1},"encoding":{"x":{"field":"x","type":"quantitative","scale":{"domain":[0.5,4.5],"nice":false,"zero":false},"axis":{"values":[1,2,3,4],"labels":false,"title":null}},"y":{"field":"v","type":"quantitative","scale":{"domain":[0,20],"nice":false,"zero":false},"axis":{"values":[0,5,10,15,20],"title":["Exploration time","for test (s)"],"labelOverlap":false}}}},
 {"data":{"name":"pts"},"transform":[{"filter":"datum.p=='G' && datum.g>=3"}],"mark":{"type":"point","shape":"square","size":75,"filled":false,"color":"#8c8c8c","strokeWidth":2,"opacity":1},"encoding":{"x":{"field":"x","type":"quantitative"},"y":{"field":"v","type":"quantitative"}}},
 {"data":{"name":"sum"},"transform":[{"filter":"datum.p=='G'"}],"mark":{"type":"rule","strokeWidth":2.5},"encoding":{"x":{"field":"g","type":"quantitative"},"y":{"field":"lo","type":"quantitative"},"y2":{"field":"hi"},"color":{"field":"g","type":"nominal","scale":{"domain":[1,2,3,4],"range":["#f5301e","#f5301e","#1a3cf4","#1a3cf4"]},"legend":null}}},
 {"data":{"name":"sum"},"transform":[{"filter":"datum.p=='G'"}],"mark":{"type":"tick","orient":"horizontal","size":30,"thickness":3,"opacity":1},"encoding":{"x":{"field":"g","type":"quantitative"},"y":{"field":"m","type":"quantitative"},"color":{"field":"g","type":"nominal","legend":null}}},
 {"data":{"name":"sum"},"transform":[{"filter":"datum.p=='G'"}],"mark":{"type":"tick","orient":"horizontal","size":15,"thickness":2.5,"opacity":1},"encoding":{"x":{"field":"g","type":"quantitative"},"y":{"field":"lo","type":"quantitative"},"color":{"field":"g","type":"nominal","legend":null}}},
 {"data":{"name":"sum"},"transform":[{"filter":"datum.p=='G'"}],"mark":{"type":"tick","orient":"horizontal","size":15,"thickness":2.5,"opacity":1},"encoding":{"x":{"field":"g","type":"quantitative"},"y":{"field":"hi","type":"quantitative"},"color":{"field":"g","type":"nominal","legend":null}}},
 {"mark":{"type":"rule","color":"#000","strokeWidth":1.8},"encoding":{"x":{"datum":1},"x2":{"datum":4},"y":{"datum":18.0}}},
 {"data":{"name":"sum"},"transform":[{"filter":"datum.p=='G'"}],"mark":{"type":"rule","color":"#000","strokeWidth":1.8},"encoding":{"x":{"field":"g","type":"quantitative"},"y":{"datum":18.0},"y2":{"datum":17.4}}},
 {"mark":{"type":"text","text":"ns","fontSize":17.5,"dy":-5,"baseline":"alphabetic","align":"center"},"encoding":{"x":{"datum":2.5},"y":{"datum":18.0}}},
 {"mark":{"type":"text","text":"G","fontSize":28,"fontWeight":"bold","align":"left","dx":-80,"dy":5,"baseline":"alphabetic"},"encoding":{"x":{"datum":0.5},"y":{"datum":20}}}
]
},

{
"width":176,"height":176,"data":{"values":[{}]},
"layer":[
 {"mark":{"type":"rule","color":"#000","strokeWidth":1.5,"strokeDash":[2,2]},"encoding":{"x":{"datum":0.5},"x2":{"datum":4.5},"y":{"datum":0}}},
 {"data":{"name":"pts"},"transform":[{"filter":"datum.p=='H' && datum.g<=2"}],"mark":{"type":"point","shape":"diamond","size":100,"filled":false,"color":"#8c8c8c","strokeWidth":2,"opacity":1},"encoding":{"x":{"field":"x","type":"quantitative","scale":{"domain":[0.5,4.5],"nice":false,"zero":false},"axis":{"values":[1,2,3,4],"labels":false,"title":null}},"y":{"field":"v","type":"quantitative","scale":{"domain":[-20,60],"nice":false,"zero":false},"axis":{"values":[-20,0,20,40,60],"title":["Discrimination index","for test"],"titleFontSize":17,"labelOverlap":false}}}},
 {"data":{"name":"pts"},"transform":[{"filter":"datum.p=='H' && datum.g>=3"}],"mark":{"type":"point","shape":"square","size":75,"filled":false,"color":"#8c8c8c","strokeWidth":2,"opacity":1},"encoding":{"x":{"field":"x","type":"quantitative"},"y":{"field":"v","type":"quantitative"}}},
 {"data":{"name":"sum"},"transform":[{"filter":"datum.p=='H'"}],"mark":{"type":"rule","strokeWidth":2.5},"encoding":{"x":{"field":"g","type":"quantitative"},"y":{"field":"lo","type":"quantitative"},"y2":{"field":"hi"},"color":{"field":"g","type":"nominal","scale":{"domain":[1,2,3,4],"range":["#f5301e","#f5301e","#1a3cf4","#1a3cf4"]},"legend":null}}},
 {"data":{"name":"sum"},"transform":[{"filter":"datum.p=='H'"}],"mark":{"type":"tick","orient":"horizontal","size":30,"thickness":3,"opacity":1},"encoding":{"x":{"field":"g","type":"quantitative"},"y":{"field":"m","type":"quantitative"},"color":{"field":"g","type":"nominal","legend":null}}},
 {"data":{"name":"sum"},"transform":[{"filter":"datum.p=='H'"}],"mark":{"type":"tick","orient":"horizontal","size":15,"thickness":2.5,"opacity":1},"encoding":{"x":{"field":"g","type":"quantitative"},"y":{"field":"lo","type":"quantitative"},"color":{"field":"g","type":"nominal","legend":null}}},
 {"data":{"name":"sum"},"transform":[{"filter":"datum.p=='H'"}],"mark":{"type":"tick","orient":"horizontal","size":15,"thickness":2.5,"opacity":1},"encoding":{"x":{"field":"g","type":"quantitative"},"y":{"field":"hi","type":"quantitative"},"color":{"field":"g","type":"nominal","legend":null}}},
 {"mark":{"type":"rule","color":"#000","strokeWidth":1.8},"encoding":{"x":{"datum":1},"x2":{"datum":4},"y":{"datum":60.6}}},
 {"data":{"name":"sum"},"transform":[{"filter":"datum.p=='H' && datum.g!=3"}],"mark":{"type":"rule","color":"#000","strokeWidth":1.8},"encoding":{"x":{"field":"g","type":"quantitative"},"y":{"datum":60.6},"y2":{"datum":58.2}}},
 {"mark":{"type":"text","text":"ns","fontSize":17.5,"dy":-4,"baseline":"alphabetic","align":"center"},"encoding":{"x":{"datum":2.5},"y":{"datum":60.6}}},
 {"mark":{"type":"rule","color":"#000","strokeWidth":1.8},"encoding":{"x":{"datum":3},"x2":{"datum":4},"y":{"datum":48.5}}},
 {"data":{"name":"sum"},"transform":[{"filter":"datum.p=='H' && datum.g>=3"}],"mark":{"type":"rule","color":"#000","strokeWidth":1.8},"encoding":{"x":{"field":"g","type":"quantitative"},"y":{"datum":48.5},"y2":{"datum":46.1}}},
 {"mark":{"type":"text","text":"*","fontSize":23,"fontWeight":"bold","dy":6,"baseline":"alphabetic","align":"center"},"encoding":{"x":{"datum":3.5},"y":{"datum":48.5}}},
 {"data":{"name":"sum"},"transform":[{"filter":"datum.p=='H' && datum.g%2==1"}],"mark":{"type":"text","text":"veh","fontSize":18,"angle":-45,"align":"right","baseline":"middle","xOffset":0,"yOffset":9},"encoding":{"x":{"field":"g","type":"quantitative"},"y":{"datum":-20}}},
 {"data":{"name":"sum"},"transform":[{"filter":"datum.p=='H' && datum.g%2==0"}],"mark":{"type":"text","text":"XE","fontSize":18,"angle":-45,"align":"right","baseline":"middle","xOffset":0,"yOffset":9},"encoding":{"x":{"field":"g","type":"quantitative"},"y":{"datum":-20}}},
 {"mark":{"type":"rule","color":"#000","strokeWidth":1.5},"encoding":{"x":{"datum":0.386},"x2":{"datum":1.886},"y":{"datum":-40.5}}},
 {"mark":{"type":"rule","color":"#000","strokeWidth":1.5},"encoding":{"x":{"datum":2.41},"x2":{"datum":4.34},"y":{"datum":-40.5}}},
 {"mark":{"type":"text","text":"WT","fontSize":17.5,"baseline":"alphabetic","align":"center"},"encoding":{"x":{"datum":1.227},"y":{"datum":-49.5}}},
 {"mark":{"type":"text","text":"Kv7.2(S559A)","fontSize":17.5,"baseline":"alphabetic","align":"center"},"encoding":{"x":{"datum":3.386},"y":{"datum":-49.5}}},
 {"mark":{"type":"text","text":"H","fontSize":28,"fontWeight":"bold","align":"left","dx":-80,"dy":-2,"baseline":"alphabetic"},"encoding":{"x":{"datum":0.5},"y":{"datum":60}}}
]
},
{
"width":176,"height":176,"data":{"values":[{}]},
"layer":[
 {"mark":{"type":"rule","color":"#000","strokeWidth":1.5,"strokeDash":[2,2]},"encoding":{"x":{"datum":0.5},"x2":{"datum":4.5},"y":{"datum":0}}},
 {"data":{"name":"pts"},"transform":[{"filter":"datum.p=='I' && datum.g<=2"}],"mark":{"type":"point","shape":"diamond","size":100,"filled":false,"color":"#8c8c8c","strokeWidth":2,"opacity":1},"encoding":{"x":{"field":"x","type":"quantitative","scale":{"domain":[0.5,4.5],"nice":false,"zero":false},"axis":{"values":[1,2,3,4],"labels":false,"title":null}},"y":{"field":"v","type":"quantitative","scale":{"domain":[-20,60],"nice":false,"zero":false},"axis":{"values":[-20,0,20,40,60],"title":["Discrimination index","for test"],"titleFontSize":17,"labelOverlap":false}}}},
 {"data":{"name":"pts"},"transform":[{"filter":"datum.p=='I' && datum.g>=3"}],"mark":{"type":"point","shape":"square","size":75,"filled":false,"color":"#8c8c8c","strokeWidth":2,"opacity":1},"encoding":{"x":{"field":"x","type":"quantitative"},"y":{"field":"v","type":"quantitative"}}},
 {"data":{"name":"sum"},"transform":[{"filter":"datum.p=='I'"}],"mark":{"type":"rule","strokeWidth":2.5},"encoding":{"x":{"field":"g","type":"quantitative"},"y":{"field":"lo","type":"quantitative"},"y2":{"field":"hi"},"color":{"field":"g","type":"nominal","scale":{"domain":[1,2,3,4],"range":["#f5301e","#f5301e","#1a3cf4","#1a3cf4"]},"legend":null}}},
 {"data":{"name":"sum"},"transform":[{"filter":"datum.p=='I'"}],"mark":{"type":"tick","orient":"horizontal","size":30,"thickness":3,"opacity":1},"encoding":{"x":{"field":"g","type":"quantitative"},"y":{"field":"m","type":"quantitative"},"color":{"field":"g","type":"nominal","legend":null}}},
 {"data":{"name":"sum"},"transform":[{"filter":"datum.p=='I'"}],"mark":{"type":"tick","orient":"horizontal","size":15,"thickness":2.5,"opacity":1},"encoding":{"x":{"field":"g","type":"quantitative"},"y":{"field":"lo","type":"quantitative"},"color":{"field":"g","type":"nominal","legend":null}}},
 {"data":{"name":"sum"},"transform":[{"filter":"datum.p=='I'"}],"mark":{"type":"tick","orient":"horizontal","size":15,"thickness":2.5,"opacity":1},"encoding":{"x":{"field":"g","type":"quantitative"},"y":{"field":"hi","type":"quantitative"},"color":{"field":"g","type":"nominal","legend":null}}},
 {"mark":{"type":"rule","color":"#000","strokeWidth":1.8},"encoding":{"x":{"datum":1},"x2":{"datum":4},"y":{"datum":60.9}}},
 {"data":{"name":"sum"},"transform":[{"filter":"datum.p=='I' && datum.g!=3"}],"mark":{"type":"rule","color":"#000","strokeWidth":1.8},"encoding":{"x":{"field":"g","type":"quantitative"},"y":{"datum":60.9},"y2":{"datum":58.4}}},
 {"mark":{"type":"text","text":"ns","fontSize":17.5,"dy":-4,"baseline":"alphabetic","align":"center"},"encoding":{"x":{"datum":2.5},"y":{"datum":60.9}}},
 {"mark":{"type":"rule","color":"#000","strokeWidth":1.8},"encoding":{"x":{"datum":3},"x2":{"datum":4},"y":{"datum":48.8}}},
 {"data":{"name":"sum"},"transform":[{"filter":"datum.p=='I' && datum.g>=3"}],"mark":{"type":"rule","color":"#000","strokeWidth":1.8},"encoding":{"x":{"field":"g","type":"quantitative"},"y":{"datum":48.8},"y2":{"datum":46.3}}},
 {"mark":{"type":"text","text":"***","fontSize":23,"fontWeight":"bold","dy":5,"baseline":"alphabetic","align":"center"},"encoding":{"x":{"datum":3.5},"y":{"datum":48.8}}},
 {"data":{"name":"sum"},"transform":[{"filter":"datum.p=='I' && datum.g%2==1"}],"mark":{"type":"text","text":"veh","fontSize":18,"angle":-45,"align":"right","baseline":"middle","xOffset":0,"yOffset":9},"encoding":{"x":{"field":"g","type":"quantitative"},"y":{"datum":-20}}},
 {"data":{"name":"sum"},"transform":[{"filter":"datum.p=='I' && datum.g%2==0"}],"mark":{"type":"text","text":"XE","fontSize":18,"angle":-45,"align":"right","baseline":"middle","xOffset":0,"yOffset":9},"encoding":{"x":{"field":"g","type":"quantitative"},"y":{"datum":-20}}},
 {"mark":{"type":"rule","color":"#000","strokeWidth":1.5},"encoding":{"x":{"datum":0.386},"x2":{"datum":1.886},"y":{"datum":-40.5}}},
 {"mark":{"type":"rule","color":"#000","strokeWidth":1.5},"encoding":{"x":{"datum":2.41},"x2":{"datum":4.34},"y":{"datum":-40.5}}},
 {"mark":{"type":"text","text":"WT","fontSize":17.5,"baseline":"alphabetic","align":"center"},"encoding":{"x":{"datum":1.227},"y":{"datum":-49.5}}},
 {"mark":{"type":"text","text":"Kv7.2(S559A)","fontSize":17.5,"baseline":"alphabetic","align":"center"},"encoding":{"x":{"datum":3.386},"y":{"datum":-49.5}}},
 {"mark":{"type":"text","text":"I","fontSize":28,"fontWeight":"bold","align":"left","dx":-80,"dy":-2,"baseline":"alphabetic"},"encoding":{"x":{"datum":0.5},"y":{"datum":60}}}
]
},
{
"width":176,"height":176,"data":{"values":[{}]},
"layer":[
 {"mark":{"type":"rule","color":"#000","strokeWidth":1.5,"strokeDash":[2,2]},"encoding":{"x":{"datum":0.5},"x2":{"datum":4.5},"y":{"datum":0}}},
 {"data":{"name":"pts"},"transform":[{"filter":"datum.p=='J' && datum.g<=2"}],"mark":{"type":"point","shape":"diamond","size":100,"filled":false,"color":"#8c8c8c","strokeWidth":2,"opacity":1},"encoding":{"x":{"field":"x","type":"quantitative","scale":{"domain":[0.5,4.5],"nice":false,"zero":false},"axis":{"values":[1,2,3,4],"labels":false,"title":null}},"y":{"field":"v","type":"quantitative","scale":{"domain":[-20,60],"nice":false,"zero":false},"axis":{"values":[-20,0,20,40,60],"title":["Discrimination index","for test"],"titleFontSize":17,"labelOverlap":false}}}},
 {"data":{"name":"pts"},"transform":[{"filter":"datum.p=='J' && datum.g>=3"}],"mark":{"type":"point","shape":"square","size":75,"filled":false,"color":"#8c8c8c","strokeWidth":2,"opacity":1},"encoding":{"x":{"field":"x","type":"quantitative"},"y":{"field":"v","type":"quantitative"}}},
 {"data":{"name":"sum"},"transform":[{"filter":"datum.p=='J'"}],"mark":{"type":"rule","strokeWidth":2.5},"encoding":{"x":{"field":"g","type":"quantitative"},"y":{"field":"lo","type":"quantitative"},"y2":{"field":"hi"},"color":{"field":"g","type":"nominal","scale":{"domain":[1,2,3,4],"range":["#f5301e","#f5301e","#1a3cf4","#1a3cf4"]},"legend":null}}},
 {"data":{"name":"sum"},"transform":[{"filter":"datum.p=='J'"}],"mark":{"type":"tick","orient":"horizontal","size":30,"thickness":3,"opacity":1},"encoding":{"x":{"field":"g","type":"quantitative"},"y":{"field":"m","type":"quantitative"},"color":{"field":"g","type":"nominal","legend":null}}},
 {"data":{"name":"sum"},"transform":[{"filter":"datum.p=='J'"}],"mark":{"type":"tick","orient":"horizontal","size":15,"thickness":2.5,"opacity":1},"encoding":{"x":{"field":"g","type":"quantitative"},"y":{"field":"lo","type":"quantitative"},"color":{"field":"g","type":"nominal","legend":null}}},
 {"data":{"name":"sum"},"transform":[{"filter":"datum.p=='J'"}],"mark":{"type":"tick","orient":"horizontal","size":15,"thickness":2.5,"opacity":1},"encoding":{"x":{"field":"g","type":"quantitative"},"y":{"field":"hi","type":"quantitative"},"color":{"field":"g","type":"nominal","legend":null}}},
 {"mark":{"type":"rule","color":"#000","strokeWidth":1.8},"encoding":{"x":{"datum":1},"x2":{"datum":3.475},"y":{"datum":60.9}}},
 {"mark":{"type":"rule","color":"#000","strokeWidth":1.8},"encoding":{"x":{"datum":1},"y":{"datum":60.9},"y2":{"datum":58.4}}},
 {"mark":{"type":"rule","color":"#000","strokeWidth":1.8},"encoding":{"x":{"datum":3.475},"y":{"datum":60.9},"y2":{"datum":47.6}}},
 {"mark":{"type":"rule","color":"#000","strokeWidth":1.8},"encoding":{"x":{"datum":3.0},"x2":{"datum":3.95},"y":{"datum":47.6}}},
 {"mark":{"type":"rule","color":"#000","strokeWidth":1.8},"encoding":{"x":{"datum":3.0},"y":{"datum":47.6},"y2":{"datum":45.1}}},
 {"mark":{"type":"rule","color":"#000","strokeWidth":1.8},"encoding":{"x":{"datum":3.95},"y":{"datum":47.6},"y2":{"datum":45.1}}},
 {"mark":{"type":"rule","color":"#000","strokeWidth":1.8},"encoding":{"x":{"datum":1.0},"x2":{"datum":1.92},"y":{"datum":47.6}}},
 {"mark":{"type":"rule","color":"#000","strokeWidth":1.8},"encoding":{"x":{"datum":1.0},"y":{"datum":47.6},"y2":{"datum":45.1}}},
 {"mark":{"type":"rule","color":"#000","strokeWidth":1.8},"encoding":{"x":{"datum":1.92},"y":{"datum":47.6},"y2":{"datum":45.1}}},
 {"mark":{"type":"text","text":"***","fontSize":23,"fontWeight":"bold","dy":5.5,"baseline":"alphabetic","align":"center"},"encoding":{"x":{"datum":2.23},"y":{"datum":60.9}}},
 {"mark":{"type":"text","text":"ns","fontSize":17.5,"dy":-3,"baseline":"alphabetic","align":"center"},"encoding":{"x":{"datum":1.45},"y":{"datum":47.6}}},
 {"data":{"name":"sum"},"transform":[{"filter":"datum.p=='J' && datum.g%2==1"}],"mark":{"type":"text","text":"veh","fontSize":18,"angle":-45,"align":"right","baseline":"middle","xOffset":0,"yOffset":9},"encoding":{"x":{"field":"g","type":"quantitative"},"y":{"datum":-20}}},
 {"data":{"name":"sum"},"transform":[{"filter":"datum.p=='J' && datum.g%2==0"}],"mark":{"type":"text","text":"XE","fontSize":18,"angle":-45,"align":"right","baseline":"middle","xOffset":0,"yOffset":9},"encoding":{"x":{"field":"g","type":"quantitative"},"y":{"datum":-20}}},
 {"mark":{"type":"rule","color":"#000","strokeWidth":1.5},"encoding":{"x":{"datum":0.386},"x2":{"datum":1.886},"y":{"datum":-40.5}}},
 {"mark":{"type":"rule","color":"#000","strokeWidth":1.5},"encoding":{"x":{"datum":2.41},"x2":{"datum":4.34},"y":{"datum":-40.5}}},
 {"mark":{"type":"text","text":"WT","fontSize":17.5,"baseline":"alphabetic","align":"center"},"encoding":{"x":{"datum":1.227},"y":{"datum":-49.5}}},
 {"mark":{"type":"text","text":"Kv7.2(S559A)","fontSize":17.5,"baseline":"alphabetic","align":"center"},"encoding":{"x":{"datum":3.386},"y":{"datum":-49.5}}},
 {"mark":{"type":"text","text":"J","fontSize":28,"fontWeight":"bold","align":"left","dx":-80,"dy":-2,"baseline":"alphabetic"},"encoding":{"x":{"datum":0.5},"y":{"datum":60}}}
]
}
]
}
